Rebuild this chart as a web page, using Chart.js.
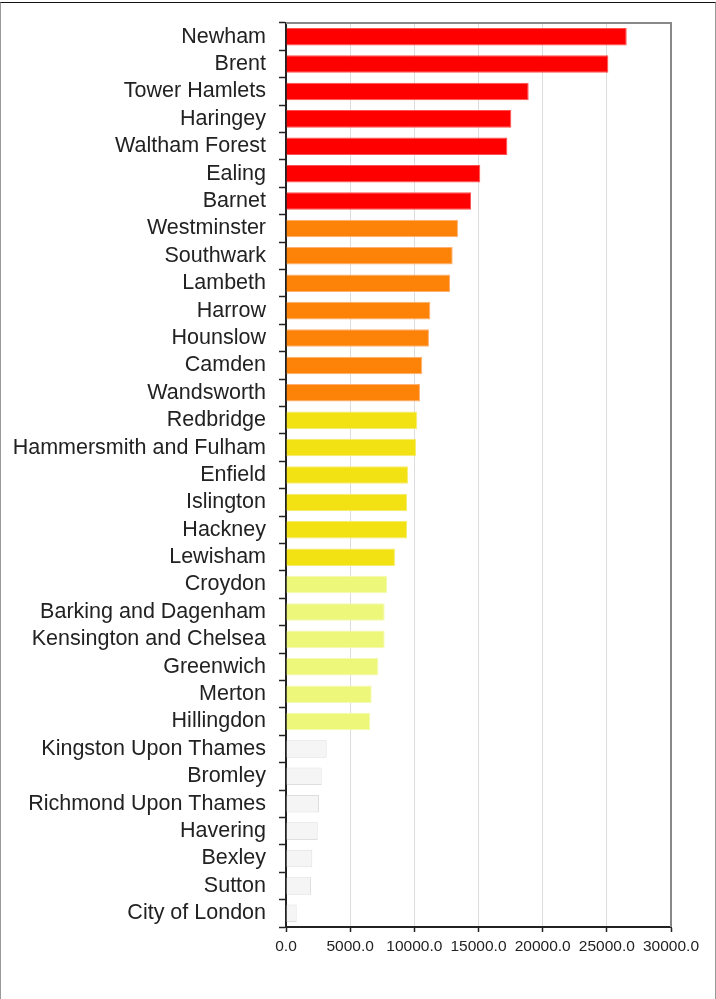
<!DOCTYPE html>
<html>
<head>
<meta charset="utf-8">
<script src="https://cdn.jsdelivr.net/npm/chart.js@4.4.0/dist/chart.umd.min.js"></script>
<style>
  html, body { margin: 0; padding: 0; background: #fff; }
  #wrap { position: relative; width: 716px; height: 999px; overflow: hidden; }
  #frame { position: absolute; left: 0; top: 2px; width: 714px; height: 1100px;
           border-top: 1px solid #111; border-left: 1px solid #999; border-right: 1px solid #999; pointer-events: none; }
  canvas { position: absolute; left: 0; top: 0; }
</style>
</head>
<body>
<div id="wrap">
  <canvas id="c" width="716" height="999"></canvas>
  <div id="frame"></div>
</div>
<script>
const categories = [
  "Newham", "Brent", "Tower Hamlets", "Haringey", "Waltham Forest", "Ealing", "Barnet",
  "Westminster", "Southwark", "Lambeth", "Harrow", "Hounslow", "Camden", "Wandsworth",
  "Redbridge", "Hammersmith and Fulham", "Enfield", "Islington", "Hackney", "Lewisham",
  "Croydon", "Barking and Dagenham", "Kensington and Chelsea", "Greenwich", "Merton", "Hillingdon",
  "Kingston Upon Thames", "Bromley", "Richmond Upon Thames", "Havering", "Bexley", "Sutton", "City of London"
];
const values = [
  26550, 25120, 18910, 17560, 17250, 15140, 14420,
  13400, 12990, 12780, 11250, 11140, 10620, 10440,
  10230, 10130, 9530, 9430, 9430, 8490,
  7900, 7690, 7690, 7200, 6680, 6570,
  3170, 2780, 2570, 2470, 2050, 1950, 830
];
// colour band (0..4) of each borough, top to bottom
const bands = [
  0,0,0,0,0,0,0,
  1,1,1,1,1,1,1,
  2,2,2,2,2,2,
  3,3,3,3,3,3,
  4,4,4,4,4,4,4
];
const xTicks = [0, 5000, 10000, 15000, 20000, 25000, 30000];

const bandFill   = ["#ff0000", "#fd8208", "#f2e213", "#edf779", "#f5f5f5"];
const bandBorder = ["#ff5050", "#fdb070", "#f6ec70", "#f3fab0", "#dedede"];

const frame = {
  id: "frame",
  afterDraw(chart) {
    const a = chart.chartArea, ctx = chart.ctx;
    ctx.save();
    ctx.strokeStyle = "#888";
    ctx.lineWidth = 2;
    ctx.beginPath();
    ctx.moveTo(a.left, a.top);
    ctx.lineTo(a.right, a.top);
    ctx.lineTo(a.right, a.bottom);
    ctx.stroke();
    ctx.restore();
  }
};

new Chart(document.getElementById("c"), {
  type: "bar",
  data: {
    labels: categories,
    datasets: [{
      data: values,
      backgroundColor: bands.map(b => bandFill[b]),
      borderColor: bands.map(b => bandBorder[b]),
      borderWidth: 1,
      borderSkipped: "start",
      barPercentage: 0.8,
      categoryPercentage: 0.8
    }]
  },
  options: {
    indexAxis: "y",
    responsive: false,
    animation: false,
    layout: { padding: { top: 23, right: 45, left: 0, bottom: 0 } },
    plugins: { legend: { display: false }, tooltip: { enabled: false } },
    scales: {
      x: {
        min: 0, max: 30000,
        afterBuildTicks(scale) { scale.ticks = xTicks.map(v => ({ value: v })); },
        afterFit(scale) { scale.height = 72; },
        border: { color: "#222", width: 2 },
        grid: { color: "#dcdcdc", lineWidth: 1, tickColor: "#222", tickLength: 5, tickWidth: 1.5 },
        ticks: {
          padding: 5,
          color: "#222",
          font: { family: "'Liberation Sans', Arial, sans-serif", size: 15.5 },
          maxRotation: 0,
          callback: v => Number(v).toFixed(1)
        }
      },
      y: {
        afterFit(scale) { scale.width = 286; scale.paddingTop = 0; scale.paddingBottom = 0; },
        border: { color: "#222", width: 2 },
        grid: { drawOnChartArea: false, tickColor: "#222", tickLength: 7, tickWidth: 1.5, offset: true },
        ticks: {
          padding: 13,
          color: "#222",
          autoSkip: false,
          font: { family: "'Liberation Sans', Arial, sans-serif", size: 21.5 }
        }
      }
    }
  },
  plugins: [frame]
});
</script>
</body>
</html>
